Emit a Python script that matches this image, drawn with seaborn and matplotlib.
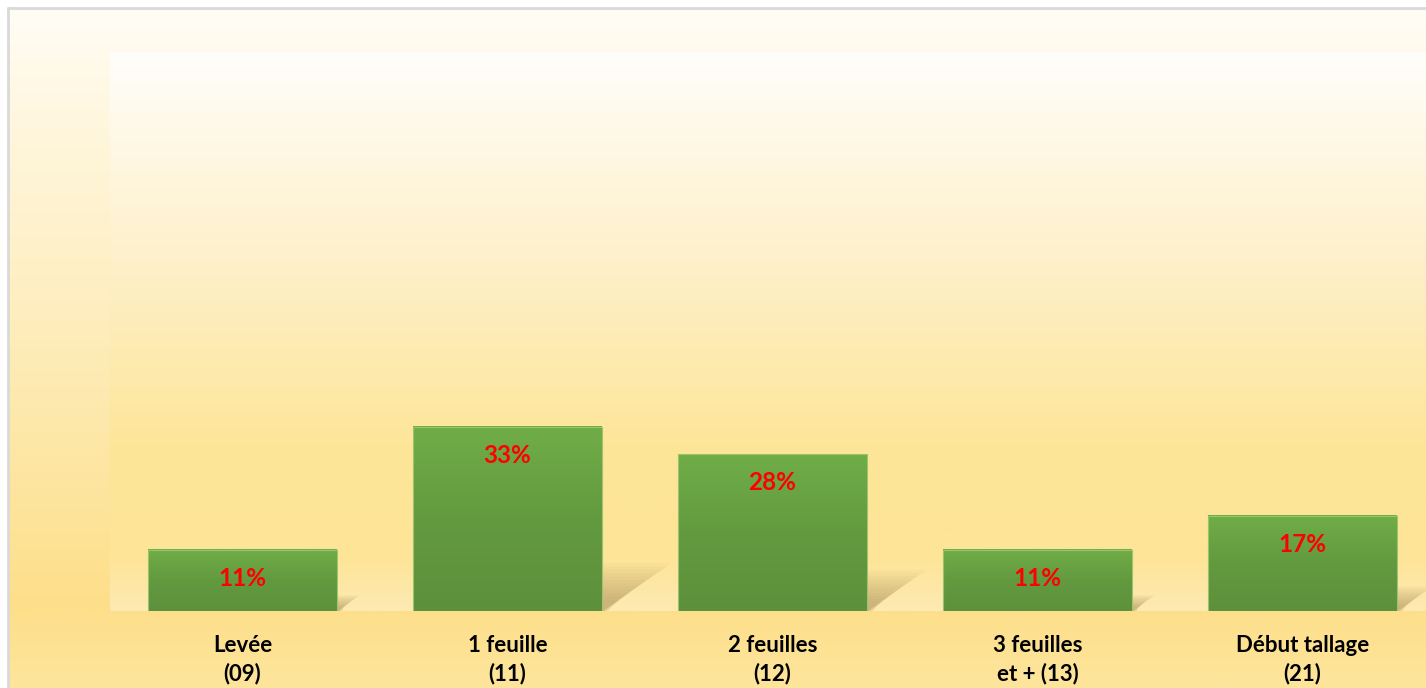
import numpy as np
import matplotlib
matplotlib.use("Agg")
import matplotlib.pyplot as plt
import seaborn as sns
from matplotlib.colors import LinearSegmentedColormap
from matplotlib.patches import Polygon

# data
stages = ["Levée\n(09)", "1 feuille\n(11)", "2 feuilles\n(12)", "3 feuilles\net + (13)", "Début tallage\n(21)"]
shares = [11, 33, 28, 11, 17]
labels = ["11%", "33%", "28%", "11%", "17%"]

sns.set_style("white")
plt.rcParams['font.family'] = ['Lato', 'DejaVu Sans']

W, H = 1426, 688
fig = plt.figure(figsize=(W / 100, H / 100), dpi=100)
fig.patch.set_facecolor("white")

# chart area background (white -> yellow)
bg = fig.add_axes([8 / W, 0, 1 - 8 / W, 1 - 8 / H])
bg_cmap = LinearSegmentedColormap.from_list(
    "bg", [(0.0, "#fde59c"), (0.12, "#fddf8a"), (0.5, "#feecb8"), (0.85, "#fff7e0"), (1.0, "#fffdf6")])
grad = np.linspace(0, 1, 256).reshape(-1, 1)
bg.imshow(grad, cmap=bg_cmap, aspect="auto", origin="lower", extent=[0, 1, 0, 1])
bg.set_xlim(0, 1)
bg.set_ylim(0, 1)
bg.axis("off")
fig.add_artist(plt.Line2D([8 / W, 8 / W], [0, 1 - 8 / H], color="#d9d9d9", lw=2, transform=fig.transFigure))
fig.add_artist(plt.Line2D([8 / W, 1], [1 - 8 / H, 1 - 8 / H], color="#d9d9d9", lw=2, transform=fig.transFigure))

# plot area
pos = [110 / W, (H - 611) / H, 1325 / W, 559 / H]
pa = fig.add_axes(pos)
pa_cmap = LinearSegmentedColormap.from_list(
    "pa", [(0.0, "#feeab3"), (0.1, "#fde496"), (0.3, "#fde699"), (0.6, "#feefc6"), (1.0, "#fffefa")])
pa.imshow(grad, cmap=pa_cmap, aspect="auto", origin="lower", extent=[0, 1, 0, 1])
pa.set_xlim(0, 1)
pa.set_ylim(0, 1)
pa.axis("off")

ax = fig.add_axes(pos)
ax.patch.set_alpha(0)
sns.barplot(x=stages, y=shares, ax=ax, width=0.71, color="#6aa444")

bar_cmap = LinearSegmentedColormap.from_list("bar", ["#5d903b", "#639a40", "#70ad47"])
for patch, lab in zip(ax.patches, labels):
    x0 = patch.get_x()
    w = patch.get_width()
    h = patch.get_height()
    x1 = x0 + w
    # soft perspective shadow behind the bar
    for k in range(12):
        s = 1 - k * 0.07
        dx = 0.008 * h * s
        dy = 0.26 * h * s
        poly = Polygon([(x0, 0), (x1 + 0.03 * (1 - s), 0), (x1 + dx, dy), (x0 + dx, dy)],
                       closed=True, facecolor="#8a6a2a", edgecolor="none", alpha=0.04, zorder=1)
        ax.add_patch(poly)
    patch.set_facecolor("none")
    patch.set_edgecolor("#9cc46c")
    patch.set_linewidth(0.8)
    patch.set_zorder(3)
    ax.imshow(grad, cmap=bar_cmap, aspect="auto", origin="lower",
              extent=[x0, x1, 0, h], zorder=2)
    ax.text(x0 + w / 2, h - 5.1, lab, ha="center", va="center", color="#ff0000",
            fontsize=17.5, fontweight="bold", zorder=4)

ax.set_xlim(-0.5, 4.5)
ax.set_ylim(0, 100)
ax.set_yticks([])
ax.tick_params(axis="x", length=0, pad=17)
for t in ax.get_xticklabels():
    t.set_fontsize(16)
    t.set_fontweight("bold")
    t.set_color("black")
    t.set_linespacing(1.42)
sns.despine(ax=ax, left=True, bottom=True)

fig.savefig("out.png", dpi=100)
